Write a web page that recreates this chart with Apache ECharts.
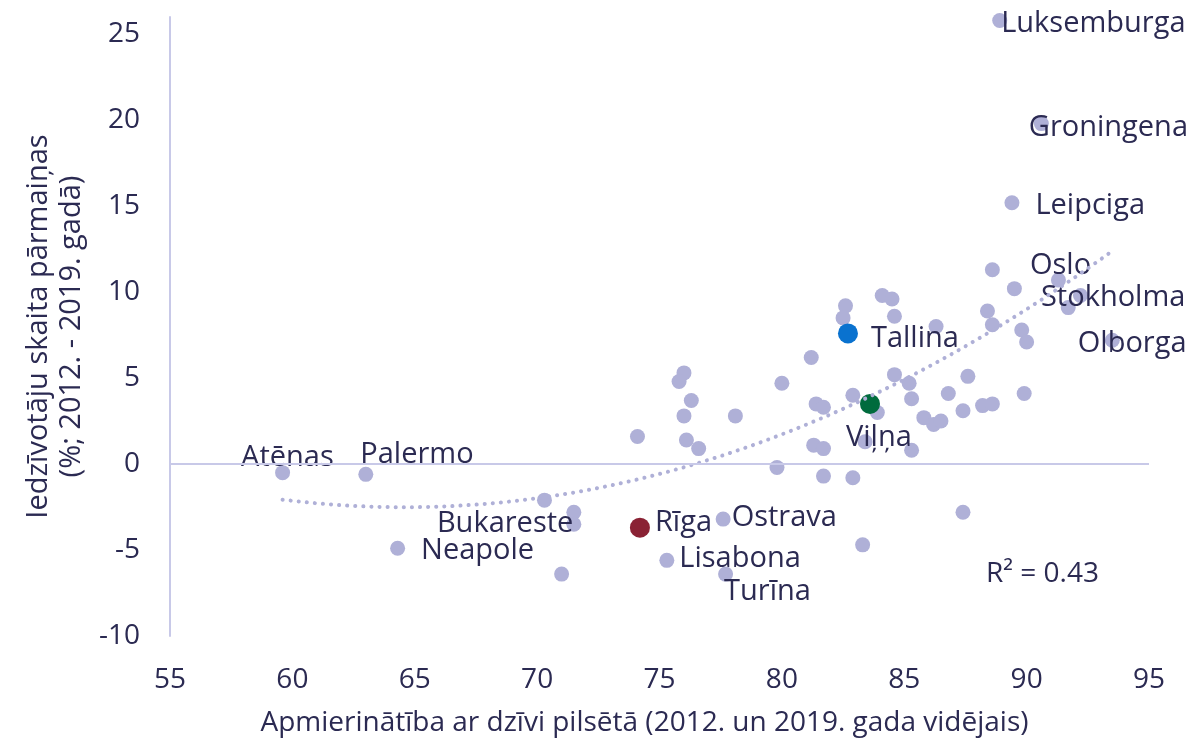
<!DOCTYPE html>
<html>
<head>
<meta charset="utf-8">
<script src="https://cdn.jsdelivr.net/npm/echarts@6/dist/echarts.min.js"></script>
<style>
  html, body { margin: 0; padding: 0; background: #fff; }
  #chart { width: 1191px; height: 743px; }
</style>
</head>
<body>
<div id="chart"></div>
<script>
// city names ('' = unlabelled point)
const cities = [
  'Luksemburga', 'Groningena', 'Leipciga', '', 'Oslo', '', 'Stokholma', '', 'Olborga', '',
  '', '', '', '', '', '', '', '', '', '',
  '', '', '', '', '', '', '', '', '', '',
  'Viļņa', '', '', '', '', 'Tallina', '', '', '', '',
  '', '', '', '', '', '', '', '', '', '',
  '', '', '', '', '', '', 'Bukareste', 'Rīga', 'Ostrava', 'Lisabona',
  'Turīna', '', '', 'Atēnas', 'Palermo', 'Neapole', ''
]
// satisfaction with life in the city (x)
const satisfaction = [
  88.9, 90.6, 89.4, 88.6, 91.3, 89.5, 92.2, 91.7, 93.5, 88.4,
  88.6, 89.8, 90.0, 84.1, 84.5, 84.6, 86.3, 84.6, 85.2, 85.3,
  86.8, 87.6, 89.9, 87.4, 88.2, 88.6, 85.8, 86.2, 86.5, 85.3,
  83.6, 83.9, 83.4, 82.6, 82.5, 82.7, 81.2, 76.0, 75.8, 80.0,
  76.3, 76.0, 78.1, 74.1, 76.1, 76.6, 81.4, 81.7, 82.9, 81.3,
  81.7, 79.8, 81.7, 82.9, 70.3, 71.5, 71.5, 74.2, 77.6, 75.3,
  77.7, 71.0, 83.3, 59.6, 63.0, 64.3, 87.4
]
// population change 2012-2019, % (y)
const popChange = [
  25.8, 19.8, 15.2, 11.3, 10.7, 10.2, 9.8, 9.1, 7.2, 8.9,
  8.1, 7.8, 7.1, 9.8, 9.6, 8.6, 8.0, 5.2, 4.7, 3.8,
  4.1, 5.1, 4.1, 3.1, 3.4, 3.5, 2.7, 2.3, 2.5, 0.8,
  3.5, 3.0, 1.3, 9.2, 8.5, 7.6, 6.2, 5.3, 4.8, 4.7,
  3.7, 2.8, 2.8, 1.6, 1.4, 0.9, 3.5, 3.3, 4.0, 1.1,
  0.9, -0.2, -0.7, -0.8, -2.1, -2.8, -3.5, -3.7, -3.2, -5.6,
  -6.4, -6.4, -4.7, -0.5, -0.6, -4.9, -2.8
]
const xTicks = [55, 95, 5]
const yTicks = [-10, 26, 5]
const r2Text = 'R² = 0.43'

// styles
const navy = '#2B2A52'
const lavender = '#AFB0D7'
const axisColor = '#C8C9E8'
const font = 'Open Sans'
const highlight = { 'Tallina': '#0A72CF', 'Viļņa': '#006B3D', 'Rīga': '#8A2234' }
const labelPos = {
  'Luksemburga': ['right', [-6, 3]],
  'Groningena': ['right', [-20, 4]],
  'Leipciga': ['right', [16, 3]],
  'Oslo': ['right', [-36, -14]],
  'Stokholma': ['right', [-47, 2]],
  'Olborga': ['right', [-42, 3]],
  'Tallina': ['right', [13, 5]],
  'Viļņa': ['right', [-34, 34]],
  'Atēnas': ['right', [-49, -15]],
  'Palermo': ['right', [-13, -20]],
  'Bukareste': ['left', [7, -1]],
  'Neapole': ['right', [16, 2]],
  'Rīga': ['right', [5, -5]],
  'Ostrava': ['right', [1, -1]],
  'Lisabona': ['right', [5, -2]],
  'Turīna': ['right', [-9, 18]]
}

function makePoint(i) {
  const name = cities[i]
  const p = { name: name, value: [satisfaction[i], popChange[i]] }
  if (highlight[name]) {
    p.itemStyle = { color: highlight[name], opacity: 1 }
    p.symbolSize = 20
  }
  if (labelPos[name]) {
    p.label = {
      show: true,
      formatter: '{b}',
      position: labelPos[name][0],
      distance: 0,
      offset: labelPos[name][1]
    }
  }
  return p
}

const basePoints = []
const hiPoints = []
cities.forEach((c, i) => {
  (highlight[c] ? hiPoints : basePoints).push(makePoint(i))
})

// polynomial (order 2) least-squares trendline fitted on the points
function fitQuadratic(xs, ys) {
  const c = 80
  const S = [0, 0, 0, 0, 0]
  const T = [0, 0, 0]
  xs.forEach((x0, i) => {
    const x = x0 - c
    let p = 1
    for (let k = 0; k < 5; k++) { S[k] += p; if (k < 3) T[k] += p * ys[i]; p *= x }
  })
  const A = [[S[0], S[1], S[2], T[0]], [S[1], S[2], S[3], T[1]], [S[2], S[3], S[4], T[2]]]
  for (let i = 0; i < 3; i++) {
    for (let j = i + 1; j < 3; j++) {
      const f = A[j][i] / A[i][i]
      for (let k = i; k < 4; k++) A[j][k] -= f * A[i][k]
    }
  }
  const b = [0, 0, 0]
  for (let i = 2; i >= 0; i--) {
    let s = A[i][3]
    for (let k = i + 1; k < 3; k++) s -= A[i][k] * b[k]
    b[i] = s / A[i][i]
  }
  return x => b[0] + b[1] * (x - c) + b[2] * (x - c) * (x - c)
}
const trendFn = fitQuadratic(satisfaction, popChange)
const xMin = Math.min(...satisfaction)
const xMax = Math.max(...satisfaction)
const trend = []
for (let k = 0; k <= 80; k++) {
  const x = xMin + (xMax - xMin) * k / 80
  trend.push([x, trendFn(x)])
}

const chart = echarts.init(document.getElementById('chart'))
chart.setOption({
  animation: false,
  textStyle: { fontFamily: font, color: navy },
  grid: { left: 170, right: 42, top: 17, bottom: 107 },
  xAxis: {
    type: 'value',
    min: xTicks[0], max: xTicks[1], interval: xTicks[2],
    name: 'Apmierinātība ar dzīvi pilsētā (2012. un 2019. gada vidējais)',
    nameLocation: 'middle',
    nameGap: 73,
    nameTextStyle: { fontSize: 28, color: navy, fontFamily: font, padding: [0, 30, 0, 0] },
    axisLine: { show: false },
    axisTick: { show: false },
    splitLine: { show: false },
    axisLabel: { fontSize: 28, color: navy, margin: 30, fontFamily: font }
  },
  yAxis: {
    type: 'value',
    min: yTicks[0], max: yTicks[1], interval: yTicks[2],
    name: 'Iedzīvotāju skaita pārmaiņas\n(%; 2012. - 2019. gadā)',
    nameLocation: 'middle',
    nameGap: 82,
    nameTextStyle: { fontSize: 29, color: navy, lineHeight: 33, fontFamily: font },
    axisLine: { show: true, lineStyle: { color: axisColor, width: 2 } },
    axisTick: { show: false },
    splitLine: { show: false },
    axisLabel: {
      fontSize: 28, color: navy, margin: 30, fontFamily: font,
      formatter: v => (v % 5 === 0 ? String(v) : '')
    }
  },
  series: [
    {
      type: 'scatter',
      z: 2,
      symbolSize: 15,
      itemStyle: { color: lavender, opacity: 1 },
      label: { fontSize: 29, color: navy, fontFamily: font },
      data: basePoints,
      markLine: {
        silent: true,
        symbol: 'none',
        label: { show: false },
        lineStyle: { color: axisColor, width: 2, type: 'solid' },
        data: [{ yAxis: 0 }]
      }
    },
    {
      type: 'scatter',
      z: 3,
      symbolSize: 20,
      itemStyle: { opacity: 1 },
      label: { fontSize: 29, color: navy, fontFamily: font },
      data: hiPoints
    },
    {
      type: 'line',
      z: 4,
      silent: true,
      showSymbol: false,
      smooth: false,
      lineStyle: { color: lavender, width: 4, type: [0.1, 8], cap: 'round' },
      data: trend
    }
  ],
  graphic: [
    {
      type: 'text',
      left: 986,
      top: 560,
      style: { text: r2Text, fontSize: 28, fill: navy, fontFamily: font }
    }
  ]
})
</script>
</body>
</html>
